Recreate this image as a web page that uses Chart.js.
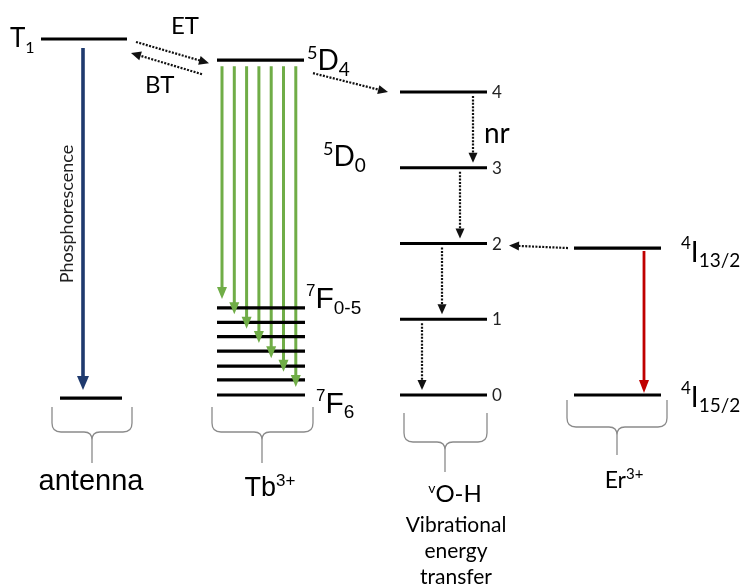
<!DOCTYPE html>
<html><head><meta charset="utf-8">
<script src="https://cdn.jsdelivr.net/npm/chart.js@4/dist/chart.umd.min.js"></script>
<style>html,body{margin:0;padding:0;background:#fff;overflow:hidden}canvas{display:block}</style>
</head><body>
<canvas id="c" width="741" height="588"></canvas>
<script>
// ===== DATA: energies in units of one O-H vibrational quantum =====
const species = ['antenna', 'Tb3+', 'vO-H', 'Er3+'];
const antennaLevelNames = ['T1', 'S0'];
const antennaEnergies = [4.70, -0.04];
const tbLevelNames = ['5D4', '7F0', '7F1', '7F2', '7F3', '7F4', '7F5', '7F6'];
const tbEnergies = [4.42, 1.15, 0.96, 0.77, 0.58, 0.38, 0.20, 0.0];
const ohLevelNames = ['0', '1', '2', '3', '4'];
const ohEnergies = [0, 1, 2, 3, 4];
const erLevelNames = ['4I13/2', '4I15/2'];
const erEnergies = [1.94, 0];
// transitions: [from species, level index, to species, level index, kind]
const transitions = [
  ['antenna', 0, 'antenna', 1, 'phos'],
  ['antenna', 0, 'tb', 0, 'dot'],
  ['tb', 0, 'antenna', 0, 'dot'],
  ['tb', 0, 'oh', 4, 'dot'],
  ['tb', 0, 'tb', 1, 'green'], ['tb', 0, 'tb', 2, 'green'], ['tb', 0, 'tb', 3, 'green'],
  ['tb', 0, 'tb', 4, 'green'], ['tb', 0, 'tb', 5, 'green'], ['tb', 0, 'tb', 6, 'green'],
  ['tb', 0, 'tb', 7, 'green'],
  ['oh', 4, 'oh', 3, 'nr'], ['oh', 3, 'oh', 2, 'nr'], ['oh', 2, 'oh', 1, 'nr'], ['oh', 1, 'oh', 0, 'nr'],
  ['er', 0, 'oh', 2, 'dot'],
  ['er', 0, 'er', 1, 'red']
];

// ===== LAYOUT (pixels / styles only) =====
const W = 741, H = 588, Y0 = 395, UNIT = 75.75;
const levels = { antenna: antennaEnergies, tb: tbEnergies, oh: ohEnergies, er: erEnergies };
const levelSpans = {
  antenna: [[41, 127], [60, 122]],
  tb: [[217, 304]].concat(tbEnergies.slice(1).map(() => [217, 305])),
  oh: ohEnergies.map(() => [400, 487]),
  er: erEnergies.map(() => [574, 661])
};
// arrow geometry per transition: [x0, dy0, x1, dy1] (dy in px, positive = below the level)
const arrowGeom = [
  [83, 9, 83, -8],
  [136, 3, 209, 3],
  [202, 14, 131, 14],
  [313, 13, 388, 0],
  [222, 6, 222, -9], [234.3, 6, 234.3, -8], [246.6, 6, 246.6, -8], [258.9, 6, 258.9, -8],
  [271.2, 6, 271.2, -8], [283.5, 6, 283.5, -8], [295.8, 6, 295.8, -8],
  [473, 4, 473, -5], [460, 4, 460, -5], [442, 4, 442, -5], [422, 4, 422, -5],
  [568, 0, 509, 2],
  [644, 3, 644, -2]
];
const arrowStyle = {
  phos: { color: '#1f3a6e', width: 3.6, dash: [], head: [14, 12] },
  green: { color: '#70ad47', width: 3, dash: [], head: [12, 10] },
  red: { color: '#c00000', width: 2.8, dash: [], head: [13, 10] },
  dot: { color: '#111', width: 2.2, dash: [2, 1.4], head: [10, 9] },
  nr: { color: '#111', width: 2.2, dash: [2, 1.4], head: [10, 9] }
};
const braces = [
  { L: 52, R: 132, top: 407, h: 432, c: 92, bottom: 463 },
  { L: 212, R: 313, top: 407, h: 432, c: 262, bottom: 463 },
  { L: 404, R: 487, top: 413, h: 442, c: 445, bottom: 472 },
  { L: 567, R: 667, top: 400, h: 427, c: 617, bottom: 455 }
];

const yMax = Y0 / UNIT, yMin = -(H - Y0) / UNIT;
const eToPx = e => Y0 - e * UNIT;
const pxToE = p => (Y0 - p) / UNIT;

// ===== datasets =====
const datasets = [];
Object.keys(levels).forEach(sp => {
  levels[sp].forEach((e, i) => {
    const [x0, x1] = levelSpans[sp][i];
    datasets.push({
      data: [{ x: x0, y: e }, { x: x1, y: e }],
      showLine: true, borderColor: '#000', borderWidth: 3.2, pointRadius: 0, fill: false
    });
  });
});
const arrowHeads = [];
transitions.forEach((t, k) => {
  const [fs, fi, ts, ti, kind] = t;
  const g = arrowGeom[k], st = arrowStyle[kind];
  const p0 = { x: g[0], y: eToPx(levels[fs][fi]) + g[1] };
  const p1 = { x: g[2], y: eToPx(levels[ts][ti]) + g[3] };
  const dx = p1.x - p0.x, dy = p1.y - p0.y, len = Math.hypot(dx, dy);
  const back = st.head[0] * 0.75;
  const pe = { x: p1.x - dx / len * back, y: p1.y - dy / len * back };
  datasets.push({
    data: [{ x: p0.x, y: pxToE(p0.y) }, { x: pe.x, y: pxToE(pe.y) }],
    showLine: true, borderColor: st.color, borderWidth: st.width, borderDash: st.dash,
    pointRadius: 0, fill: false
  });
  arrowHeads.push({ from: { x: p0.x, y: pxToE(p0.y) }, tip: { x: p1.x, y: pxToE(p1.y) }, st });
});

// ===== plugins =====
const bracePlugin = {
  id: 'braces',
  beforeDatasetsDraw(chart) {
    const ctx = chart.ctx;
    ctx.save();
    ctx.strokeStyle = '#8a8a8a'; ctx.lineWidth = 1.3;
    braces.forEach(b => {
      const r = 9, r2 = 8;
      ctx.beginPath();
      ctx.moveTo(b.L, b.top);
      ctx.lineTo(b.L, b.h - r);
      ctx.quadraticCurveTo(b.L, b.h, b.L + r, b.h);
      ctx.lineTo(b.c - r2, b.h);
      ctx.quadraticCurveTo(b.c, b.h, b.c, b.h + r2);
      ctx.lineTo(b.c, b.bottom);
      ctx.moveTo(b.R, b.top);
      ctx.lineTo(b.R, b.h - r);
      ctx.quadraticCurveTo(b.R, b.h, b.R - r, b.h);
      ctx.lineTo(b.c + r2, b.h);
      ctx.quadraticCurveTo(b.c, b.h, b.c, b.h + r2);
      ctx.stroke();
    });
    ctx.restore();
  }
};
const headPlugin = {
  id: 'heads',
  afterDatasetsDraw(chart) {
    const ctx = chart.ctx, xs = chart.scales.x, ys = chart.scales.y;
    ctx.save();
    arrowHeads.forEach(a => {
      const x0 = xs.getPixelForValue(a.from.x), y0 = ys.getPixelForValue(a.from.y);
      const x1 = xs.getPixelForValue(a.tip.x), y1 = ys.getPixelForValue(a.tip.y);
      const ang = Math.atan2(y1 - y0, x1 - x0);
      const [hl, hw] = a.st.head;
      ctx.fillStyle = a.st.color;
      ctx.beginPath();
      ctx.moveTo(x1, y1);
      ctx.lineTo(x1 - hl * Math.cos(ang) + hw / 2 * Math.sin(ang), y1 - hl * Math.sin(ang) - hw / 2 * Math.cos(ang));
      ctx.lineTo(x1 - hl * Math.cos(ang) - hw / 2 * Math.sin(ang), y1 - hl * Math.sin(ang) + hw / 2 * Math.cos(ang));
      ctx.closePath();
      ctx.fill();
    });
    ctx.restore();
  }
};

const CAL = 'Lato', ARI = '"Liberation Sans", Arial';
function rich(ctx, x, base, parts, fam, align, color) {
  ctx.fillStyle = color || '#000';
  ctx.textBaseline = 'alphabetic'; ctx.textAlign = 'left';
  let total = 0;
  parts.forEach(p => { ctx.font = p[1] + 'px ' + fam; total += ctx.measureText(p[0]).width; });
  let cx = align === 'center' ? x - total / 2 : x;
  parts.forEach(p => {
    ctx.font = p[1] + 'px ' + fam;
    ctx.fillText(p[0], cx, base + (p[2] || 0));
    cx += ctx.measureText(p[0]).width;
  });
}
const textPlugin = {
  id: 'texts',
  afterDraw(chart) {
    const ctx = chart.ctx, ys = chart.scales.y;
    const ly = (sp, i) => ys.getPixelForValue(levels[sp][i]);
    ctx.save();
    rich(ctx, 10, ly('antenna', 0) + 8, [['T', 26], ['1', 16, 6]], CAL, 'left');
    rich(ctx, 171, 34, [['ET', 24]], CAL, 'left');
    rich(ctx, 145, 93, [['BT', 24]], CAL, 'left');
    rich(ctx, 307, ly('tb', 0) + 10, [['5', 18, -11], ['D', 28], ['4', 19, 6]], CAL, 'left');
    rich(ctx, 323, 166, [['5', 18, -11], ['D', 28], ['0', 19, 6]], CAL, 'left');
    rich(ctx, 306, ly('tb', 1), [['7', 17, -12], ['F', 30], ['0-5', 19, 6]], ARI, 'left');
    rich(ctx, 316, ly('tb', 7) + 18, [['7', 17, -12], ['F', 30], ['6', 19, 5]], ARI, 'left');
    rich(ctx, 484, 143, [['nr', 28]], CAL, 'left');
    ohLevelNames.forEach((n, i) => rich(ctx, 492, ly('oh', i) + 6, [[n, 17]], CAL, 'left', '#222'));
    rich(ctx, 681, ly('er', 0) + 14, [['4', 17, -13], ['I', 28], ['13/2', 19, 5]], CAL, 'left');
    rich(ctx, 681, ly('er', 1) + 12, [['4', 17, -13], ['I', 28], ['15/2', 19, 5]], CAL, 'left');
    rich(ctx, 91, 490, [['antenna', 29]], ARI, 'center');
    rich(ctx, 270, 496, [['Tb', 27], ['3+', 17, -10]], ARI, 'center');
    rich(ctx, 455, 502, [['v', 14, -9], ['O-H', 24]], CAL, 'center');
    rich(ctx, 456, 532, [['Vibrational', 21]], CAL, 'center');
    rich(ctx, 456, 558, [['energy', 21]], CAL, 'center');
    rich(ctx, 456, 584, [['transfer', 21]], CAL, 'center');
    rich(ctx, 624, 488, [['Er', 23], ['3+', 15, -9]], CAL, 'center');
    ctx.translate(73, 214); ctx.rotate(-Math.PI / 2);
    rich(ctx, 0, 0, [['Phosphorescence', 18]], CAL, 'center', '#222');
    ctx.restore();
  }
};

new Chart(document.getElementById('c'), {
  type: 'scatter',
  data: { datasets },
  options: {
    responsive: false, animation: false, events: [],
    layout: { padding: 0 },
    plugins: { legend: { display: false }, tooltip: { enabled: false } },
    elements: { line: { tension: 0 } },
    scales: {
      x: { type: 'linear', min: 0, max: W, display: false },
      y: { type: 'linear', min: yMin, max: yMax, display: false }
    }
  },
  plugins: [bracePlugin, headPlugin, textPlugin]
});
</script>
</body></html>
